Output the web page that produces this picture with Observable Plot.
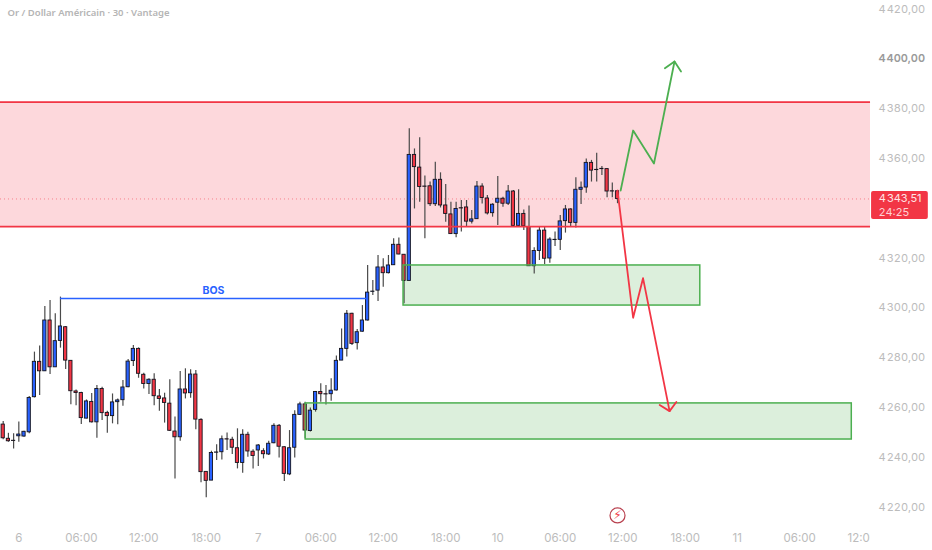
<!DOCTYPE html>
<html lang="fr">
<head>
<meta charset="utf-8">
<style>html,body{margin:0;padding:0;background:#fff}svg{display:block}</style>
<script src="https://cdn.jsdelivr.net/npm/d3@7"></script>
<script src="https://cdn.jsdelivr.net/npm/@observablehq/plot@0.6"></script>
</head>
<body>
<div id="chart"></div>
<script>
const opens = [4252.9,4247.2,4246.4,4248.2,4248.1,4249.8,4263.9,4278.1,4274.3,4294.7,4275.9,4286.5,4292.0,4278.5,4266.2,4265.6,4255.3,4262.0,4253.8,4267.2,
4257.6,4256.3,4261.9,4262.7,4267.9,4278.4,4283.3,4272.9,4269.2,4270.9,4264.2,4263.4,4261.3,4250.1,4247.8,4267.0,4265.5,4273.0,4254.8,4233.9,
4230.4,4241.6,4241.8,4247.0,4246.8,4243.4,4237.5,4248.8,4242.0,4242.5,4242.2,4240.9,4245.4,4252.4,4243.8,4232.9,4243.6,4256.8,4261.0,4250.3,
4258.8,4266.0,4265.1,4265.1,4266.6,4278.6,4283.3,4297.4,4285.6,4290.2,4294.7,4306.2,4306.7,4316.0,4313.7,4316.9,4325.1,4321.1,4310.6,4361.2,
4356.1,4348.5,4348.6,4341.4,4351.2,4340.9,4337.3,4329.4,4339.8,4340.1,4334.4,4335.4,4348.5,4343.7,4337.8,4342.0,4343.6,4341.6,4346.5,4332.7,
4337.5,4332.2,4316.5,4322.6,4330.8,4319.6,4327.1,4327.1,4334.6,4339.3,4333.9,4347.2,4348.1,4358.0,4355.2,4355.6,4355.5,4346.6,4346.6];
const highs = [4254.1,4249.4,4249.2,4253.9,4250.2,4264.2,4282.0,4284.5,4300.3,4302.7,4297.4,4304.1,4292.3,4278.6,4266.8,4265.9,4262.8,4265.4,4268.6,4267.9,
4258.3,4265.2,4263.2,4270.6,4279.0,4284.7,4283.7,4273.5,4271.3,4273.3,4267.0,4265.5,4270.9,4255.9,4274.2,4275.3,4274.9,4274.6,4255.2,4234.0,
4242.2,4244.8,4248.3,4249.5,4247.8,4251.2,4250.8,4249.8,4242.8,4244.9,4243.2,4246.2,4253.2,4252.9,4244.0,4250.5,4258.5,4261.9,4261.9,4259.6,
4266.2,4269.3,4268.6,4271.3,4280.4,4291.3,4298.7,4297.6,4291.1,4300.7,4316.8,4310.8,4320.8,4319.5,4320.8,4327.5,4327.8,4321.2,4371.7,4363.6,
4368.1,4352.7,4350.3,4358.3,4354.0,4349.3,4342.2,4342.2,4342.9,4342.9,4338.9,4350.5,4349.6,4344.9,4341.6,4352.5,4344.2,4348.9,4346.9,4347.2,
4339.1,4340.7,4323.9,4332.2,4332.2,4327.9,4330.2,4336.9,4340.9,4339.6,4352.0,4350.3,4359.6,4359.0,4361.9,4356.5,4355.6,4349.9,4346.9];
const lows = [4246.8,4245.8,4243.1,4245.8,4247.8,4249.2,4263.6,4264.6,4274.2,4273.0,4275.9,4283.6,4275.0,4260.9,4260.5,4252.9,4255.2,4253.5,4247.4,4254.5,
4249.4,4253.2,4252.8,4260.3,4267.7,4276.2,4271.5,4267.2,4265.0,4260.5,4258.3,4253.5,4250.1,4231.0,4246.2,4263.2,4263.5,4250.8,4229.5,4223.5,
4230.4,4238.5,4238.7,4242.5,4240.9,4235.1,4233.4,4239.8,4235.1,4236.1,4239.1,4240.5,4245.2,4239.5,4230.0,4232.4,4239.5,4256.5,4247.2,4249.9,
4257.9,4261.9,4260.8,4262.3,4266.4,4278.6,4280.0,4284.7,4282.9,4290.0,4294.5,4304.7,4302.3,4308.1,4313.4,4316.8,4321.1,4301.4,4310.5,4339.5,
4342.2,4327.5,4340.5,4340.5,4339.9,4334.2,4329.2,4327.9,4330.2,4332.2,4333.5,4335.3,4341.5,4337.1,4336.2,4332.9,4340.2,4340.9,4332.5,4332.5,
4330.8,4316.4,4313.4,4318.8,4317.2,4317.7,4324.4,4322.8,4329.8,4332.5,4331.8,4341.3,4345.8,4350.3,4350.3,4352.9,4344.0,4344.0,4341.6];
const closes = [4247.4,4246.2,4246.3,4248.9,4250.0,4263.6,4278.1,4274.3,4294.7,4275.9,4286.4,4292.3,4278.6,4266.3,4265.6,4255.5,4262.2,4253.8,4267.2,4257.5,
4256.3,4261.8,4262.6,4267.8,4278.2,4283.3,4273.3,4269.2,4270.9,4264.3,4263.2,4261.6,4250.4,4247.8,4267.0,4265.4,4273.0,4254.9,4233.8,4230.3,
4241.5,4241.7,4247.0,4246.9,4243.6,4237.5,4248.8,4242.1,4240.3,4244.5,4241.0,4245.2,4252.4,4244.0,4233.1,4243.4,4256.8,4261.0,4250.5,4258.5,
4266.0,4265.1,4265.0,4266.5,4278.5,4283.3,4297.4,4285.3,4290.0,4294.7,4305.9,4306.3,4316.0,4313.7,4316.8,4325.1,4321.2,4310.6,4361.2,4356.3,
4348.3,4348.4,4341.4,4351.2,4340.9,4337.5,4329.4,4339.5,4339.7,4334.4,4335.3,4348.5,4343.9,4337.7,4341.2,4343.6,4341.6,4346.5,4332.7,4337.5,
4332.5,4316.5,4322.6,4330.8,4319.5,4327.2,4327.0,4334.5,4339.3,4333.9,4347.2,4348.0,4358.0,4354.9,4355.1,4355.5,4346.5,4346.5,4343.51];

const tickIdx = [3,15,27,39,49,61,73,85,95,107,119,131,141,153,165];
const tickLabels = ["6","06:00","12:00","18:00","7","06:00","12:00","18:00","10","06:00","12:00","18:00","11","06:00","12:00"];
const priceTicks = [4420,4380,4360,4320,4300,4280,4260,4240,4220];
const boldPrice = [4400];

const redZone = [{x1:-0.52,x2:166.6,y1:4332.4,y2:4382.4}];
const greenZones = [
  {x1:76.9,x2:133.9,y1:4300.7,y2:4316.8},
  {x1:58.1,x2:163,y1:4246.9,y2:4261.4}
];
const bos = [{x1:11,x2:70,y:4303.5}];
const upPathIdx = [118.6,121,125,128.95], upPathPrice = [4346.9,4371,4357.75,4398.7];
const upHeadIdx = [127.1,128.95,130.2], upHeadPrice = [4396,4398.7,4394.7];
const downPathIdx = [118,121,122.9,128], downPathPrice = [4346.9,4295.8,4311.7,4258.3];
const downHeadIdx = [126.1,128,129.3], downHeadPrice = [4260.8,4258.3,4262];
const lastPrice = 4343.51;

const RED="#f23645", BLUE="#2962ff", GREEN="#4caf50", GREY="#bcbcbc", FONT="Inter, 'Noto Sans', sans-serif";
const candles = opens.map((o,i)=>({i,o,h:highs[i],l:lows[i],c:closes[i]}));
const pts = (xs,ys)=>xs.map((x,i)=>({x,y:ys[i]}));
const fmt = d=>d3.format(".2f")(d).replace(".",",").replace(/^(\d)/,"$1\u200A");

const chart = Plot.plot({
  width:932,height:550,marginTop:0,marginBottom:0,marginLeft:0,marginRight:62,
  style:{fontFamily:FONT,background:"#fff"},
  x:{type:"linear",domain:[0,165],range:[2.7,861.7],axis:null},
  y:{type:"linear",domain:[4220,4420],range:[506,8],axis:null},
  marks:[
    Plot.rect(redZone,{x1:"x1",x2:"x2",y1:"y1",y2:"y2",fill:"#fdd8dc",clip:"frame"}),
    Plot.rect(greenZones,{x1:"x1",x2:"x2",y1:"y1",y2:"y2",fill:"#dcefdc"}),
    Plot.ruleY([lastPrice],{x1:-0.52,x2:166.6,stroke:RED,strokeOpacity:.55,strokeWidth:1,strokeDasharray:"1,3"}),
    Plot.ruleX(candles,{x:"i",y1:"l",y2:"h",stroke:"#4a4a4a",strokeWidth:1.2}),
    Plot.rect(candles,{x1:d=>d.i-0.31,x2:d=>d.i+0.31,y1:"o",y2:"c",
      fill:d=>d.c>=d.o?BLUE:RED,stroke:"#14141e",strokeWidth:0.9}),
    Plot.ruleY(redZone.flatMap(d=>[d.y1,d.y2]),{x1:-0.52,x2:166.6,stroke:RED,strokeWidth:1.6}),
    Plot.rect(greenZones,{x1:"x1",x2:"x2",y1:"y1",y2:"y2",fill:"none",stroke:GREEN,strokeWidth:1.5}),
    Plot.ruleY(bos,{x1:"x1",x2:"x2",y:"y",stroke:BLUE,strokeWidth:1.5}),
    Plot.text(["BOS"],{x:40.4,y:4306.7,text:d=>d,fill:BLUE,fontWeight:700,fontSize:10.5}),
    Plot.line(pts(upPathIdx,upPathPrice),{x:"x",y:"y",stroke:GREEN,strokeWidth:1.8,curve:"linear"}),
    Plot.line(pts(upHeadIdx,upHeadPrice),{x:"x",y:"y",stroke:GREEN,strokeWidth:1.8,curve:"linear"}),
    Plot.line(pts(downPathIdx,downPathPrice),{x:"x",y:"y",stroke:RED,strokeWidth:1.8,curve:"linear"}),
    Plot.line(pts(downHeadIdx,downHeadPrice),{x:"x",y:"y",stroke:RED,strokeWidth:1.8,curve:"linear"}),
    Plot.axisY({anchor:"right",ticks:priceTicks,tickSize:0,tickPadding:8,label:null,tickFormat:fmt,fill:GREY,fontSize:11,textAnchor:"start",dy:0.5}),
    Plot.axisY({anchor:"right",ticks:boldPrice,tickSize:0,tickPadding:8,label:null,tickFormat:fmt,fill:"#9a9a9a",fontSize:11,fontWeight:600,textAnchor:"start",dy:0.5}),
    Plot.text(tickIdx.map((x,i)=>({x,t:tickLabels[i]})),{x:"x",frameAnchor:"bottom",text:"t",dy:-9,fill:GREY,fontSize:11.5,clip:"frame"}),
    Plot.rect([{x1:166.8,x2:177.7}],{x1:"x1",x2:"x2",y1:4335.3,y2:4346.5,fill:RED,rx:2}),
    Plot.text([fmt(lastPrice)],{x:168.2,y:lastPrice,text:d=>d,textAnchor:"start",fill:"#ffe3e5",fontSize:11}),
    Plot.text(["24:25"],{x:168.2,y:4338.1,text:d=>d,textAnchor:"start",fill:"#ffd0d4",fontSize:11}),
    Plot.dot([0],{x:118,y:4216.4,r:7.5,stroke:"#b9414f",fill:"#fff",strokeWidth:1.2}),
    Plot.text(["\u26A1\uFE0E"],{x:118,y:4216.4,text:d=>d,fill:RED,fontSize:12,fontFamily:"DejaVu Sans"}),
    Plot.text(["Or / Dollar Américain · 30 · Vantage"],{frameAnchor:"top-left",dx:7,dy:9,text:d=>d,fill:"#b5b5b5",fontSize:9.5,fontWeight:600,fontFamily:"'Noto Sans'",textAnchor:"start"})
  ]
});
document.getElementById("chart").append(chart);
</script>
</body>
</html>
